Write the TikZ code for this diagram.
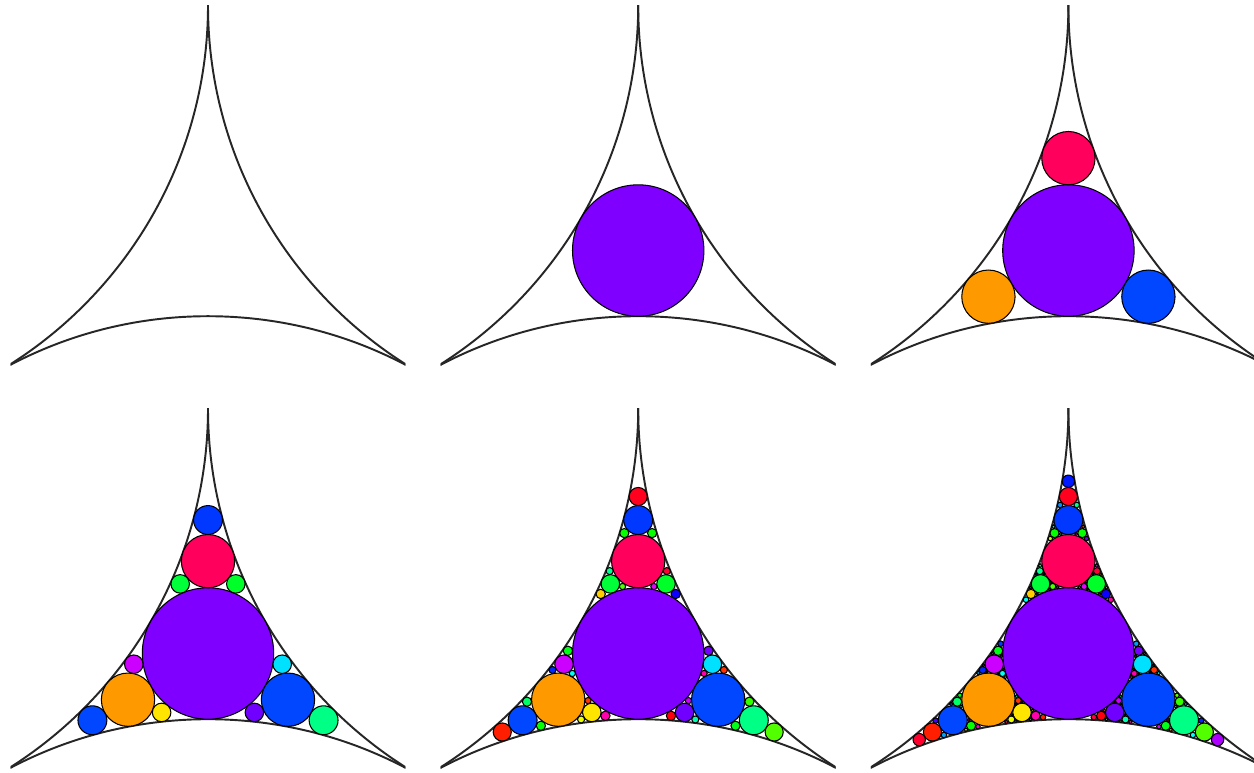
\documentclass[tikz,border=0pt]{standalone}
\usepackage{tikz}

% hue of every disc, keyed by its place in the packing
\newcommand\sethue[2]{\expandafter\def\csname gskhue#1\endcsname{#2}}
\sethue{}{0.75}
\sethue{1}{0.94}  \sethue{2}{0.62}  \sethue{3}{0.10}
\sethue{11}{0.63} \sethue{12}{0.36} \sethue{13}{0.37}
\sethue{21}{0.42} \sethue{22}{0.74} \sethue{23}{0.52}
\sethue{31}{0.62} \sethue{32}{0.15} \sethue{33}{0.80}
\sethue{111}{0.98} \sethue{112}{0.33} \sethue{113}{0.33}
\sethue{211}{0.28} \sethue{212}{0.35} \sethue{213}{0.30}
\sethue{311}{0.02} \sethue{312}{0.33} \sethue{313}{0.40}
\sethue{221}{0.99} \sethue{222}{0.80} \sethue{223}{0.45}
\sethue{1111}{0.65} \sethue{2111}{0.78} \sethue{3111}{0.97}

% a gap = three tangent circles (k, k*x, k*y) and the circle opposite
\def\sumthree#1,#2,#3;#4,#5,#6;#7,#8,#9;{%
  \pgfmathsetmacro\sk{#1+#4+#7}%
  \pgfmathsetmacro\sx{#2+#5+#8}%
  \pgfmathsetmacro\sy{#3+#6+#9}}
\def\minusopp#1,#2,#3;{%
  \pgfmathsetmacro\ek{2*\sk-(#1)}%
  \pgfmathsetmacro\ex{2*\sx-(#2)}%
  \pgfmathsetmacro\ey{2*\sy-(#3)}}
\def\drawdisc#1,#2,#3;#4{%
  \pgfmathsetmacro\rr{1/(#1)}%
  \pgfmathsetmacro\cx{(#2)/(#1)}%
  \pgfmathsetmacro\cy{(#3)/(#1)}%
  \ifcsname gskhue#4\endcsname
    \edef\hh{\csname gskhue#4\endcsname}%
  \else
    \pgfmathsetmacro\hh{mod(mod(#4,89)*13,89)/89}%
  \fi
  \definecolor{huetmp}{hsb}{\hh,1,1}%
  \colorlet{discfill}[rgb]{huetmp}%
  \draw[disc] (\cx,\cy) circle[radius=\rr];}
\newcommand\apolgap[6]{%
  \ifnum#5>0
  \begingroup
    \sumthree#1;#2;#3;%
    \minusopp#4;%
    \edef\E{\ek,\ex,\ey}%
    \expandafter\drawdisc\E;{#6}%
    \pgfmathtruncatemacro\dleft{#5-1}%
    \edef\next{%
      \noexpand\apolgap{#1}{#2}{\E}{#3}{\dleft}{#61}%
      \noexpand\apolgap{#2}{#3}{\E}{#1}{\dleft}{#62}%
      \noexpand\apolgap{#1}{#3}{\E}{#2}{\dleft}{#63}}%
    \next
  \endgroup
  \fi}

% one panel: outer arcs, then the packing down to depth #3
\newcommand\gasketpanel[3]{%
  \begin{scope}[shift={(#1,#2)}, xscale=424.7, yscale=-424.7]
    \begin{scope}
      \clip (-0.465,-0.4) rectangle (0.465,0.57735);
      \draw[rim] (-1,0.57735) circle[radius=1];
      \draw[rim] (1,0.57735) circle[radius=1];
      \draw[rim] (0,-1.1547) circle[radius=1];
    \end{scope}
    \apolgap{1,-1,0.57735}{1,1,0.57735}{1,0,-1.1547}{-0.4641,0,0}{#3}{}
  \end{scope}}

\begin{document}
\begin{tikzpicture}[
  x=0.02cm, y=-0.02cm,
  rim/.style={draw=black!85, line width=1.1pt},
  disc/.style={draw=black, line width=0.6pt, fill=discfill}
]

\fill[white] (0,0) rectangle (1254,772);
\useasboundingbox (0,0) rectangle (1254,772);

% =========================
% Top row
% =========================
\gasketpanel{208}{250.5}{0}
\gasketpanel{638.2}{250.5}{1}
\gasketpanel{1068.4}{250.5}{2}

% =========================
% Bottom row
% =========================
\gasketpanel{208}{653.5}{3}
\gasketpanel{638.2}{653.5}{4}
\gasketpanel{1068.4}{653.5}{5}

\end{tikzpicture}
\end{document}
